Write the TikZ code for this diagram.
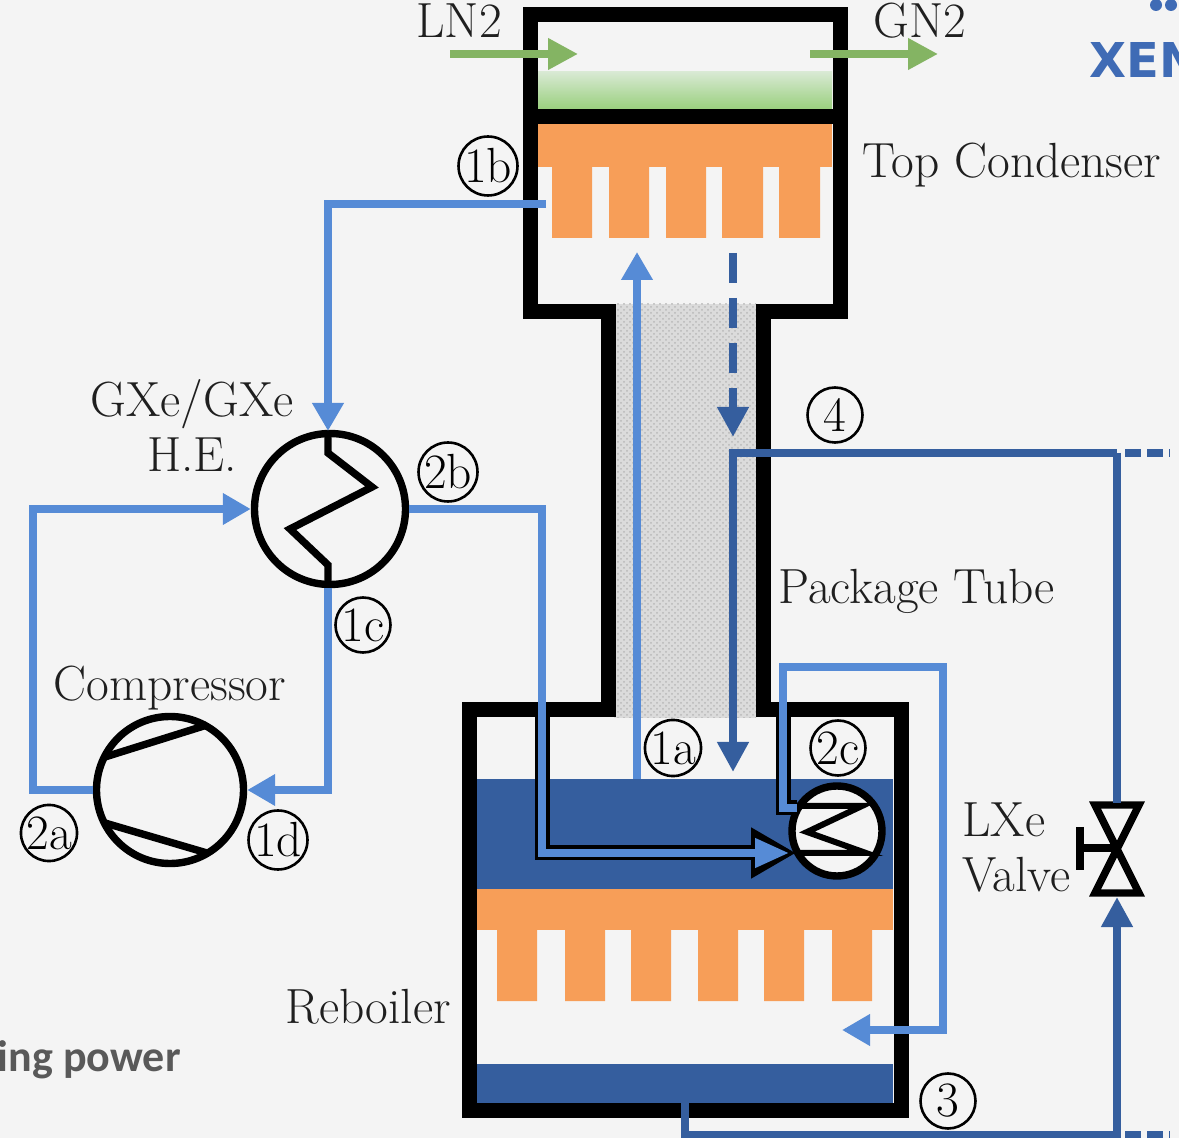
\documentclass[tikz,border=0pt]{standalone}
\usepackage{fontspec}
\newfontfamily\slidefont{Carlito}
\newfontfamily\logofont{DejaVu Sans}
\usetikzlibrary{arrows.meta,patterns}
\definecolor{bgcol}{HTML}{F4F4F4}
\definecolor{gasblue}{HTML}{568BD6}
\definecolor{lxeblue}{HTML}{355E9E}
\definecolor{lntwo}{HTML}{84B463}
\definecolor{fincol}{HTML}{F79E58}
\definecolor{logoblue}{HTML}{3F6BB5}
\definecolor{slidegray}{HTML}{595959}
\definecolor{lntop}{HTML}{D8E9D3}
\definecolor{lnbot}{HTML}{9AD07E}
\begin{document}
\begin{tikzpicture}[
  x=0.5pt,y=-0.5pt,
  lbl/.style={font=\fontsize{24.7}{27.5}\selectfont,text=black!88,inner sep=0pt},
  tag/.style={circle,draw,line width=1.3pt,minimum size=27.5pt,inner sep=0pt,
    font=\fontsize{24.7}{26}\selectfont},
  unit/.style={circle,draw,line width=3.7pt,fill=bgcol,inner sep=0pt},
  wall/.style={line width=7.5pt,miter limit=10},
  coil/.style={line width=3.7pt,miter limit=10},
  gasarr/.style={gasblue,line width=3.7pt,-{Triangle[length=14pt,width=15pt]}},
  gasline/.style={gasblue,line width=3.7pt},
  lxearr/.style={lxeblue,line width=3.7pt,-{Triangle[length=15pt,width=15pt]}},
  lxeline/.style={lxeblue,line width=3.7pt},
  lnarr/.style={lntwo,line width=3.6pt,-{Triangle[length=15pt,width=15pt]}}
]
\path[use as bounding box,fill=bgcol] (0,0) rectangle (1179,1138);
% package tube
\fill[black!14] (614,304) rectangle (756,718);
\fill[pattern=crosshatch dots,pattern color=black!28] (614,304) rectangle (756,718);
% top condenser
\shade[top color=lntop,bottom color=lnbot] (537,72) rectangle (832,109);
\fill[fincol] (537,124) rectangle (832,167);
\fill[fincol] (552,167) rectangle (592,238) (609,167) rectangle (649,238)
  (666,167) rectangle (706,238) (722,167) rectangle (763,238) (779,167) rectangle (820,238);
% reboiler
\fill[lxeblue] (477,779) rectangle (893,889);
\fill[lxeblue] (477,1064) rectangle (893,1103);
\fill[fincol] (477,889) rectangle (893,930);
\fill[fincol] (497,930) rectangle (537,1001) (565,930) rectangle (605,1001)
  (631,930) rectangle (671,1001) (698,930) rectangle (738,1001)
  (764,930) rectangle (804,1001) (832,930) rectangle (872,1001);
% vessel
\draw[wall] (530,15) -- (840,15) -- (840,311.5) -- (763,311.5) -- (763,710) -- (901,710)
  -- (901,1110) -- (469,1110) -- (469,710) -- (608,710) -- (608,311.5) -- (530,311.5) -- cycle;
\draw[wall] (530,116.5) -- (840,116.5);
% units
\node[unit,minimum size=75.5pt] (he) at (330,509) {};
\node[unit,minimum size=73.5pt] (comp) at (170,790) {};
\node[unit,minimum size=45pt] (hx) at (837,831) {};
\coordinate (vtop) at (1117,803);
\coordinate (vbot) at (1117,897);
\coordinate (vmid) at (1117,848);
\coordinate (vhand) at (1080,848);
\draw[coil] (1095,805) -- (1139,805) -- (1095,893) -- (1139,893) -- cycle;
\draw[coil] (vmid) -- (vhand);
\draw[coil] (1080,827) -- (1080,870);
\draw[coil] (328,435) -- (328,453) -- (372,487) -- (290,529) -- (328,565) -- (328,585);
\draw[coil] (105,757) -- (207,725);
\draw[coil] (105,823) -- (207,853);
\draw[line width=3pt,miter limit=10] (797,806) -- (862,806) -- (807,832) -- (866,853) -- (797,853);
% connector points
\coordinate (lnin) at (450,54);
\coordinate (lnout) at (578,54);
\coordinate (gnin) at (810,54);
\coordinate (gnout) at (938,54);
\coordinate (cfin) at (546,204);
\coordinate (bendb) at (328,204);
\coordinate (hetop) at (328,431);
\coordinate (hebot) at (328,588);
\coordinate (bendc) at (328,790);
\coordinate (bendl) at (33,790);
\coordinate (bendh) at (33,509);
\coordinate (bendr) at (542,509);
\coordinate (bendd) at (542,853);
\coordinate (hxin) at (789,853);
\coordinate (hxtip) at (796,853);
\coordinate (wallb) at (542,704);
\coordinate (pool) at (637,779);
\coordinate (riser) at (637,252);
\coordinate (dripa) at (733,253);
\coordinate (dripb) at (733,437);
\coordinate (corner) at (733,453);
\coordinate (dripc) at (733,772);
\coordinate (tee) at (1117,453);
\coordinate (teeout) at (1125,453);
\coordinate (topout) at (1170,453);
\coordinate (hxout) at (797,808);
\coordinate (bendf) at (783,808);
\coordinate (bendg) at (783,667);
\coordinate (bendi) at (943,667);
\coordinate (bendj) at (943,1030);
\coordinate (spray) at (842,1030);
\coordinate (wallc) at (783,704);
\coordinate (drain) at (685,1103);
\coordinate (bendk) at (685,1135);
\coordinate (teeb) at (1117,1135);
\coordinate (teebout) at (1125,1135);
\coordinate (botout) at (1170,1135);
% flows
\draw[lnarr] (lnin) -- (lnout);
\draw[lnarr] (gnin) -- (gnout);
\draw[gasarr] (cfin) -- (bendb) -- (hetop);
\draw[gasarr] (hebot) -- (bendc) -- (comp.east);
\draw[gasarr] (comp.west) -- (bendl) -- (bendh) -- (he.west);
\draw[line width=7.5pt,-{Triangle[length=22.5pt,width=24pt]}] (wallb) -- (bendd) -- (hxtip);
\draw[gasline] (he.east) -- (bendr) -- (bendd);
\draw[gasarr,-{Triangle[length=17pt,width=14pt]}] (bendr) -- (bendd) -- (hxin);
\draw[gasarr] (pool) -- (riser);
\draw[lxearr,dash pattern=on 15pt off 7.5pt] (dripa) -- (dripb);
\draw[lxearr] (tee) -- (corner) -- (dripc);
\draw[lxeline] (tee) -- (vtop);
\draw[lxeline,dash pattern=on 8pt off 3pt] (teeout) -- (topout);
\draw[line width=7.5pt] (wallc) -- (bendf) -- (hxout);
\draw[gasarr] (hxout) -- (bendf) -- (bendg) -- (bendi) -- (bendj) -- (spray);
\draw[lxearr] (drain) -- (bendk) -- (teeb) -- (vbot);
\draw[lxeline,dash pattern=on 8pt off 3pt] (teebout) -- (botout);
% circled tags
\node[tag] (t1a) at (673,748) {1a};
\node[tag] (t1b) at (488,166) {1b};
\node[tag] (t1c) at (363,625) {1c};
\node[tag] (t1d) at (278,840) {1d};
\node[tag] (t2a) at (49,833) {2a};
\node[tag] (t2b) at (448,472) {2b};
\node[tag] (t2c) at (838,748) {2c};
\node[tag] (t3) at (948,1101) {3};
\node[tag] (t4) at (835,415) {4};
% labels
\node[lbl] (lnlab) at (459,21) {LN2};
\node[lbl] (gnlab) at (920,21) {GN2};
\node[lbl,anchor=west] (toplab) at (862,165) {Top Condenser};
\node[lbl,align=center] (helab) at (192,426) {GXe/GXe\\H.E.};
\node[lbl] (complab) at (170,688) {Compressor};
\node[lbl,anchor=west] (tubelab) at (778,591) {Package Tube};
\node[lbl,anchor=west,align=left] (valvelab) at (962,848) {LXe\\Valve};
\node[lbl] (reblab) at (368,1007) {Reboiler};
% slide remains
\node[anchor=west,inner sep=0pt,text=logoblue,font=\logofont\bfseries\fontsize{24}{28}\selectfont] (logo) at (1089,60) {XEN};
\fill[logoblue] (1156,5) circle (3pt) (1171,5) circle (3pt);
\node[anchor=east,inner sep=0pt,text=slidegray,font=\slidefont\bfseries\fontsize{22}{26}\selectfont] (note) at (181,1060) {ing power};
\end{tikzpicture}
\end{document}
